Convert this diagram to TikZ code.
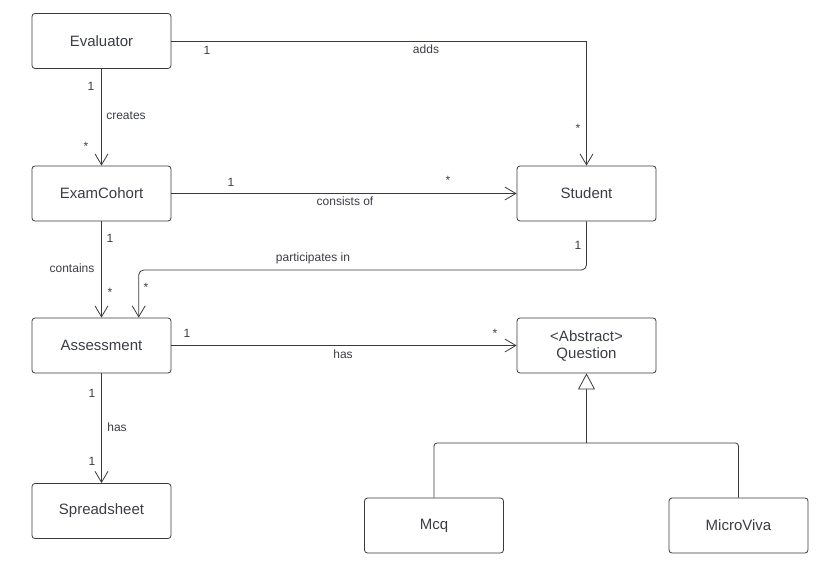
\documentclass[tikz,border=0pt]{standalone}
\usepackage{fontspec}
\setmainfont{Liberation Sans}
\usetikzlibrary{arrows.meta}
\definecolor{ln}{HTML}{3A3A3A}
\definecolor{tx}{HTML}{3A3D45}
\begin{document}
\begin{tikzpicture}[x=1pt,y=-1pt,
  cls/.style={draw=ln,line width=0.8pt,rounded corners=3pt,minimum width=139pt,minimum height=55pt,inner sep=0pt,font=\fontsize{15}{17}\selectfont,text=tx,align=center},
  conn/.style={draw=ln,line width=0.8pt},
  assoc/.style={conn,-{Straight Barb[length=11pt,width=13pt,line width=0.8pt]}},
  inh/.style={conn,-{Triangle[open,length=16pt,width=17pt,line width=0.8pt,fill=white]}},
  lbl/.style={font=\fontsize{12}{14}\selectfont,text=tx,inner sep=0pt}]
\useasboundingbox (0,0) rectangle (832,567);
\node[cls] (ev) at (101.5,41) {Evaluator};
\node[cls] (ec) at (101.5,193.5) {ExamCohort};
\node[cls] (st) at (586.5,193.5) {Student};
\node[cls] (as) at (101.5,345.5) {Assessment};
\node[cls] (qu) at (586.5,345.5) {\textless Abstract\textgreater\\Question};
\node[cls] (sp) at (101.5,511) {Spreadsheet};
\node[cls] (mc) at (434,525.5) {Mcq};
\node[cls] (mv) at (738.5,525.5) {MicroViva};
% Evaluator -> Student
\draw[assoc] (ev.east) -| (st.north);
\node[lbl] (l1) at (207,50) {1};
\node[lbl] (l2) at (426,49) {adds};
\node[lbl] (l3) at (578,128) {*};
% Evaluator -> ExamCohort
\draw[assoc] (ev.south) -- (ec.north);
\node[lbl] (l4) at (91,86) {1};
\node[lbl] (l5) at (126,116) {creates};
\node[lbl] (l6) at (86,146) {*};
% ExamCohort -> Student
\draw[assoc] (ec.east) -- (st.west);
\node[lbl] (l7) at (231,182) {1};
\node[lbl] (l8) at (345,201) {consists of};
\node[lbl] (l9) at (448,180) {*};
% ExamCohort -> Assessment
\draw[assoc] (ec.south) -- (as.north);
\node[lbl] (l10) at (110,238) {1};
\node[lbl] (l11) at (72,268) {contains};
\node[lbl] (l12) at (110,292) {*};
% Student -> Assessment
\coordinate (pa) at (138.7,270);
\draw[assoc,rounded corners=5pt] (st.south) |- (pa) -- (pa |- as.north);
\node[lbl] (l13) at (578,245) {1};
\node[lbl] (l14) at (313,258) {participates in};
\node[lbl] (l15) at (146,287) {*};
% Assessment -> Question
\draw[assoc] (as.east) -- (qu.west);
\node[lbl] (l16) at (187,333) {1};
\node[lbl] (l17) at (343,354) {has};
\node[lbl] (l18) at (495,333) {*};
% Assessment -> Spreadsheet
\draw[assoc] (as.south) -- (sp.north);
\node[lbl] (l19) at (92,393) {1};
\node[lbl] (l20) at (117,427) {has};
\node[lbl] (l21) at (92,461) {1};
% Inheritance
\coordinate (jn) at (586.5,443);
\draw[conn,rounded corners=3pt] (mc.north) |- (jn) -| (mv.north);
\draw[inh] (jn) -- (qu.south);
\end{tikzpicture}
\end{document}
